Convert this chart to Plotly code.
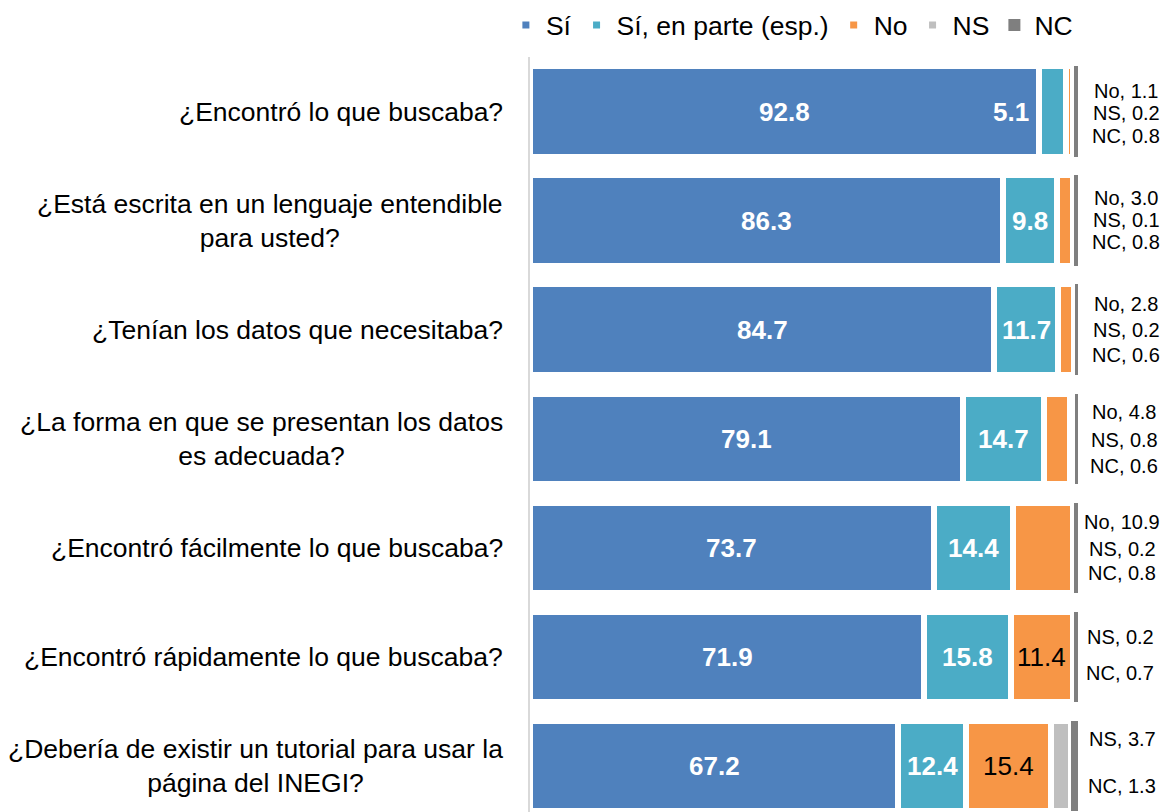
import plotly.graph_objects as go

# ---------------- data ----------------
categories = [
    "¿Encontró lo que buscaba?",
    "¿Está escrita en un lenguaje entendible<br>para usted?",
    "¿Tenían los datos que necesitaba?",
    "¿La forma en que se presentan los datos<br>es adecuada?",
    "¿Encontró fácilmente lo que buscaba?",
    "¿Encontró rápidamente lo que buscaba?",
    "¿Debería de existir un tutorial para usar la<br>página del INEGI?",
]
si = [92.8, 86.3, 84.7, 79.1, 73.7, 71.9, 67.2]
si_parte = [5.1, 9.8, 11.7, 14.7, 14.4, 15.8, 12.4]
no = [1.1, 3.0, 2.8, 4.8, 10.9, 11.4, 15.4]
ns = [0.2, 0.1, 0.2, 0.8, 0.2, 0.2, 3.7]
nc = [0.8, 0.8, 0.6, 0.6, 0.8, 0.7, 1.3]
series_names = ["Sí", "Sí, en parte (esp.)", "No", "NS", "NC"]
no_inside = [False, False, False, False, False, True, True]

# ---------------- style ----------------
FONT = "Liberation Sans, Arial, sans-serif"
colors = ["#4F81BD", "#4BACC6", "#F79646", "#BFBFBF", "#7F7F7F"]
border = [6, 6, 6, 6, 0]
teal_label_shift = [-42, 0, 0, 0, 0, 0, 0]
# vertical offsets (px, positive = down) of the right-hand label lines
right_offsets = [
    [-21, 1, 24],
    [-23, -1, 21],
    [-26, 0, 25],
    [-27, 1, 27],
    [-26, 1, 25],
    [-20, 16],
    [-27, 20],
]
right_x_shift = [48, 48, 48, 46, 44, 42, 44]

rows = list(range(len(categories)))
values = [si, si_parte, no, ns, nc]

fig = go.Figure()
for name, vals, col, bw in zip(series_names, values, colors, border):
    fig.add_trace(go.Bar(
        name=name, x=vals, y=rows, orientation="h", width=0.83,
        marker=dict(color=col, line=dict(color="white", width=bw)),
        hoverinfo="x+name",
    ))

annotations = []
# category labels (centered multi-line, right edge near axis)
for i, cat in enumerate(categories):
    annotations.append(dict(
        text=cat, xref="paper", yref="y", x=0, y=i, xshift=-25,
        xanchor="right", yanchor="middle", align="center", showarrow=False,
        font=dict(family=FONT, size=26.5, color="black"),
    ))

# inside labels
for i in rows:
    annotations.append(dict(
        text=f"{si[i]:.1f}", xref="x", yref="y", x=si[i] / 2, y=i,
        showarrow=False, font=dict(family=FONT, size=26, color="white", weight="bold"),
    ))
    annotations.append(dict(
        text=f"{si_parte[i]:.1f}", xref="x", yref="y", x=si[i] + si_parte[i] / 2, y=i,
        xshift=teal_label_shift[i],
        showarrow=False, font=dict(family=FONT, size=26, color="white", weight="bold"),
    ))
    if no_inside[i]:
        annotations.append(dict(
            text=f"{no[i]:.1f}", xref="x", yref="y", x=si[i] + si_parte[i] + no[i] / 2, y=i,
            showarrow=False, font=dict(family=FONT, size=26, color="black"),
        ))

# right-hand labels
for i in rows:
    lines = []
    if not no_inside[i]:
        lines.append(f"No, {no[i]:.1f}")
    lines.append(f"NS, {ns[i]:.1f}")
    lines.append(f"NC, {nc[i]:.1f}")
    for line, off in zip(lines, right_offsets[i]):
        annotations.append(dict(
            text=line, xref="paper", yref="y", x=1, y=i, xshift=right_x_shift[i],
            yshift=-off, xanchor="center", yanchor="middle", showarrow=False,
            font=dict(family=FONT, size=20, color="black"),
        ))

fig.update_layout(
    width=1167, height=812,
    margin=dict(l=530, r=89, t=57, b=0, pad=0, autoexpand=False),
    barmode="stack",
    bargap=0,
    plot_bgcolor="white", paper_bgcolor="white",
    font=dict(family=FONT, color="black"),
    showlegend=True,
    legend=dict(
        orientation="h", xref="paper", yref="paper",
        x=-0.044, y=1.042, xanchor="left", yanchor="middle",
        font=dict(family=FONT, size=26.5, color="black"),
        itemwidth=30, traceorder="normal",
        bgcolor="rgba(0,0,0,0)",
    ),
    xaxis=dict(range=[0, 100], showgrid=False, showticklabels=False, ticks="",
               zeroline=False, showline=False, fixedrange=True),
    yaxis=dict(range=[6.42, -0.5], showgrid=False, showticklabels=False, ticks="",
               zeroline=False, showline=True, linecolor="#D9D9D9", linewidth=2,
               fixedrange=True),
    annotations=annotations,
)

fig.write_html("out.html", config={"displayModeBar": False},
               post_script="document.body.style.margin='0';")
